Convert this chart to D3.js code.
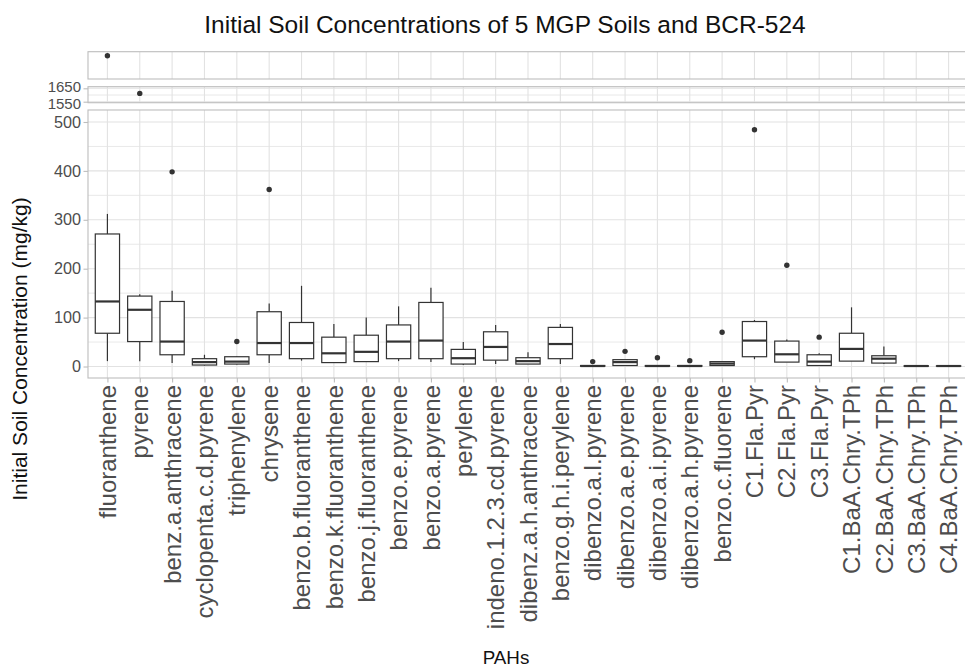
<!DOCTYPE html>
<html>
<head>
<meta charset="utf-8">
<script src="https://cdn.jsdelivr.net/npm/d3@7"></script>
<style>
  body { margin: 0; background: #fff; }
  text { font-family: "Liberation Sans", Arial, Helvetica, sans-serif; }
</style>
</head>
<body>
<svg id="chart" width="965" height="669"></svg>
<script>
// PAH species on the x axis
const categories = [
  "fluoranthene", "pyrene", "benz.a.anthracene", "cyclopenta.c.d.pyrene", "triphenylene",
  "chrysene", "benzo.b.fluoranthene", "benzo.k.fluoranthene", "benzo.j.fluoranthene",
  "benzo.e.pyrene", "benzo.a.pyrene", "perylene", "indeno.1.2.3.cd.pyrene",
  "dibenz.a.h.anthracene", "benzo.g.h.i.perylene", "dibenzo.a.l.pyrene", "dibenzo.a.e.pyrene",
  "dibenzo.a.i.pyrene", "dibenzo.a.h.pyrene", "benzo.c.fluorene", "C1.Fla.Pyr", "C2.Fla.Pyr",
  "C3.Fla.Pyr", "C1.BaA.Chry.TPh", "C2.BaA.Chry.TPh", "C3.BaA.Chry.TPh", "C4.BaA.Chry.TPh"
];

// Box statistics (mg/kg), one value per species
const whiskerLow  = [11, 11, 7, 2, 4, 7, 12, 7, 9, 11, 9, 3, 5, 5, 5, 0.3, 2, 0.3, 0.3, 2, 15, 9, 2, 11, 5, 0.5, 0.5];
const q1          = [68, 51, 24, 3, 5, 24, 16, 8, 10, 16, 16, 5, 13, 5, 16, 0.5, 2, 0.5, 0.5, 2, 20, 9, 2, 11, 7, 0.6, 0.6];
const median      = [133, 116, 51, 9, 10, 48, 48, 27, 30, 51, 53, 17, 40, 11, 46, 1, 9, 1, 1, 6, 53, 25, 10, 36, 16, 1, 1];
const q3          = [271, 144, 133, 16, 20, 112, 90, 60, 64, 85, 131, 35, 71, 18, 80, 2, 14, 2, 2, 10, 92, 52, 24, 68, 22, 1.4, 1.4];
const whiskerHigh = [312, 148, 155, 24, 21, 129, 165, 87, 100, 123, 161, 50, 85, 29, 87, 2, 14, 2, 2, 10, 95, 55, 27, 121, 41, 1.5, 1.5];

// Outlying soils: [species, concentration]
const outliers = [
  ["fluoranthene", 3402], ["pyrene", 1612], ["benz.a.anthracene", 398], ["triphenylene", 51],
  ["chrysene", 362], ["dibenzo.a.l.pyrene", 10], ["dibenzo.a.e.pyrene", 31],
  ["dibenzo.a.i.pyrene", 18], ["dibenzo.a.h.pyrene", 12], ["benzo.c.fluorene", 70],
  ["C1.Fla.Pyr", 484], ["C2.Fla.Pyr", 207], ["C3.Fla.Pyr", 60]
];

// Y tick labels for the two labelled segments of the broken axis
const mainTicks = [0, 100, 200, 300, 400, 500];
const mainMinor = [50, 150, 250, 350, 450];
const midTicks = [1550, 1650];
const midMinor = [1600];

const svg = d3.select("#chart");
const left = 88, right = 968;

const x = d3.scalePoint().domain(categories).range([left, right]).padding(0.6);
const boxW = x.step() * 0.75;

// Three stacked segments of the broken y axis
const panels = [
  { id: "top",  y: d3.scaleLinear().domain([3300, 3420]).range([79, 51.7]),      ticks: [],        minor: [],        font: 16.2, shift: 0 },
  { id: "mid",  y: d3.scaleLinear().domain([1542.5, 1662]).range([102.7, 86.7]), ticks: midTicks,  minor: midMinor,  font: 15,   shift: 2 },
  { id: "main", y: d3.scaleLinear().domain([-23.5, 524.5]).range([378, 110]),    ticks: mainTicks, minor: mainMinor, font: 16.2, shift: 0 }
];

const gridCol = "#e2e2e2", borderCol = "#bdbdbd", inkCol = "#333333", tickText = "#4d4d4d";

const defs = svg.append("defs");

panels.forEach(p => {
  const [y1, y0] = p.y.range();
  const top = Math.min(y0, y1), bottom = Math.max(y0, y1);
  defs.append("clipPath").attr("id", "clip-" + p.id)
    .append("rect").attr("x", left).attr("y", top).attr("width", right - left).attr("height", bottom - top);

  const g = svg.append("g").attr("clip-path", `url(#clip-${p.id})`);

  // grid
  g.selectAll(".minor").data(p.minor).join("line")
    .attr("x1", left).attr("x2", right).attr("y1", d => p.y(d)).attr("y2", d => p.y(d))
    .attr("stroke", gridCol).attr("stroke-width", 0.8);
  g.selectAll(".major").data(p.ticks).join("line")
    .attr("x1", left).attr("x2", right).attr("y1", d => p.y(d)).attr("y2", d => p.y(d))
    .attr("stroke", gridCol).attr("stroke-width", 1.1);
  g.selectAll(".vgrid").data(categories).join("line")
    .attr("x1", d => x(d)).attr("x2", d => x(d)).attr("y1", top).attr("y2", bottom)
    .attr("stroke", gridCol).attr("stroke-width", 1.1);

  // boxplots
  const boxes = g.selectAll(".box").data(categories).join("g");
  boxes.append("line")
    .attr("x1", d => x(d)).attr("x2", d => x(d))
    .attr("y1", (d, i) => p.y(q3[i])).attr("y2", (d, i) => p.y(whiskerHigh[i]))
    .attr("stroke", inkCol).attr("stroke-width", 1.2);
  boxes.append("line")
    .attr("x1", d => x(d)).attr("x2", d => x(d))
    .attr("y1", (d, i) => p.y(q1[i])).attr("y2", (d, i) => p.y(whiskerLow[i]))
    .attr("stroke", inkCol).attr("stroke-width", 1.2);
  boxes.append("rect")
    .attr("x", d => x(d) - boxW / 2).attr("width", boxW)
    .attr("y", (d, i) => p.y(q3[i]))
    .attr("height", (d, i) => Math.max(0, p.y(q1[i]) - p.y(q3[i])))
    .attr("fill", "#fff").attr("stroke", inkCol).attr("stroke-width", 1.2);
  boxes.append("line")
    .attr("x1", d => x(d) - boxW / 2).attr("x2", d => x(d) + boxW / 2)
    .attr("y1", (d, i) => p.y(median[i])).attr("y2", (d, i) => p.y(median[i]))
    .attr("stroke", inkCol).attr("stroke-width", 2.2);

  g.selectAll(".out").data(outliers).join("circle")
    .attr("cx", d => x(d[0])).attr("cy", d => p.y(d[1])).attr("r", 2.7)
    .attr("fill", inkCol);

  // panel border
  svg.append("rect").attr("x", left).attr("y", top).attr("width", right - left).attr("height", bottom - top)
    .attr("fill", "none").attr("stroke", borderCol).attr("stroke-width", 1.1);

  // y axis ticks and labels
  const ax = svg.append("g").attr("transform", `translate(${left},0)`)
    .call(d3.axisLeft(p.y).tickValues(p.ticks).tickSize(4.5).tickPadding(2.5).tickFormat(d3.format("d")));
  ax.select(".domain").remove();
  ax.selectAll(".tick line").attr("stroke", borderCol).attr("stroke-width", 1.1);
  ax.selectAll(".tick text").attr("fill", tickText).style("font-size", p.font + "px")
    .style("font-family", '"Liberation Sans", Arial, sans-serif')
    // spread the two tightly packed labels of the short segment apart
    .attr("y", d => p.shift ? (d === midTicks[0] ? p.shift : -p.shift) : 0);
});

// x axis: ticks and rotated species labels
const mainY = panels[2].y;
const xBottom = mainY.range()[0];
const xa = svg.append("g").attr("transform", `translate(0,${xBottom})`)
  .call(d3.axisBottom(x).tickSize(4.5).tickFormat(""));
xa.select(".domain").remove();
xa.selectAll(".tick line").attr("stroke", borderCol).attr("stroke-width", 1.1);

svg.append("g").selectAll("text").data(categories).join("text")
  .attr("transform", d => `translate(${x(d)},${xBottom + 7}) rotate(-90)`)
  .attr("text-anchor", "end").attr("dy", "0.36em")
  .attr("fill", tickText).style("font-size", "24px")
  .text(d => d);

// titles
svg.append("text").attr("x", 505).attr("y", 33).attr("text-anchor", "middle")
  .attr("fill", "#111").style("font-size", "24.5px")
  .text("Initial Soil Concentrations of 5 MGP Soils and BCR-524");

svg.append("text").attr("transform", "translate(27,349) rotate(-90)").attr("text-anchor", "middle")
  .attr("fill", "#111").style("font-size", "21px")
  .text("Initial Soil Concentration (mg/kg)");

svg.append("text").attr("x", 506).attr("y", 664).attr("text-anchor", "middle")
  .attr("fill", "#111").style("font-size", "18.8px")
  .text("PAHs");
</script>
</body>
</html>
